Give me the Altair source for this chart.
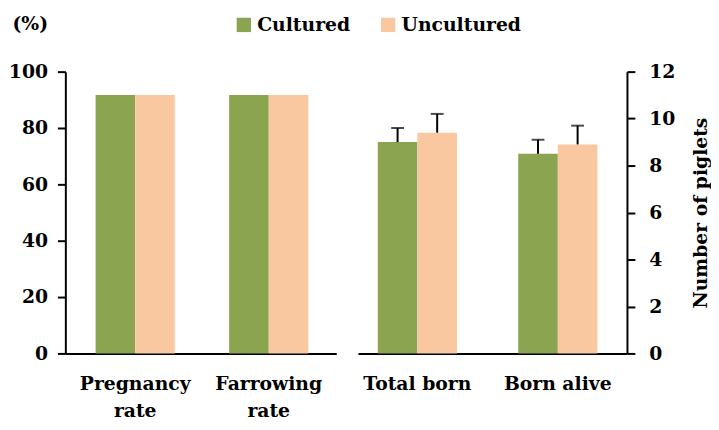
import altair as alt
import pandas as pd

series = ["Cultured", "Uncultured"]
colors = ["#8BA450", "#FAC8A0"]

left_groups = ["Pregnancy rate", "Farrowing rate"]
left_cultured = [91.7, 91.7]
left_uncultured = [91.7, 91.7]

right_groups = ["Total born", "Born alive"]
right_cultured = [9.0, 8.5]
right_cultured_sd = [0.6, 0.6]
right_uncultured = [9.4, 8.9]
right_uncultured_sd = [0.8, 0.8]

left_rows = []
for g, c, u in zip(left_groups, left_cultured, left_uncultured):
    left_rows.append({"group": g, "series": "Cultured", "value": c})
    left_rows.append({"group": g, "series": "Uncultured", "value": u})
left_df = pd.DataFrame(left_rows)

right_rows = []
for g, c, cs, u, us in zip(right_groups, right_cultured, right_cultured_sd, right_uncultured, right_uncultured_sd):
    right_rows.append({"group": g, "series": "Cultured", "value": c, "top": c + cs})
    right_rows.append({"group": g, "series": "Uncultured", "value": u, "top": u + us})
right_df = pd.DataFrame(right_rows)

FONT = "DejaVu Serif"
FS = 19
label_expr = "indexof(datum.label, ' rate') > 0 ? split(datum.label, ' ') : datum.label"

color_enc = alt.Color(
    "series:N",
    scale=alt.Scale(domain=series, range=colors),
    legend=alt.Legend(
        title=None, orient="none", legendX=171, legendY=-57, direction="horizontal",
        symbolType="square", symbolSize=210, symbolStrokeWidth=0,
        labelFont=FONT, labelFontSize=FS, labelFontWeight="bold", labelColor="black",
        labelOffset=4, columnPadding=28, padding=0,
    ),
)

x_axis = alt.Axis(title=None, ticks=False, labelAngle=0, labelExpr=label_expr,
                  labelLineHeight=28, labelPadding=21)

left_base = alt.Chart(left_df).encode(
    x=alt.X("group:N", sort=left_groups, axis=x_axis,
            scale=alt.Scale(paddingInner=0.407, paddingOuter=0.218, align=0.52)),
    xOffset=alt.XOffset("series:N", sort=series, scale=alt.Scale(paddingInner=0, paddingOuter=0)),
)
left = left_base.mark_bar().encode(
    y=alt.Y("value:Q", scale=alt.Scale(domain=[0, 100]),
            axis=alt.Axis(title="(%)", titleAngle=0, titleAlign="left", titleBaseline="top",
                          titleX=-54, titleY=-58, labelPadding=10,
                          values=[0, 20, 40, 60, 80, 100])),
    color=color_enc,
).properties(width=274, height=285)

right_base = alt.Chart(right_df).encode(
    x=alt.X("group:N", sort=right_groups, axis=x_axis,
            scale=alt.Scale(paddingInner=0.437, paddingOuter=0.176, align=0.4)),
    xOffset=alt.XOffset("series:N", sort=series, scale=alt.Scale(paddingInner=0, paddingOuter=0)),
)
y_right = alt.Y("value:Q", scale=alt.Scale(domain=[0, 12]),
                axis=alt.Axis(orient="right", title="Number of piglets", titleAngle=270,
                              titleBaseline="top", titlePadding=17, labelPadding=14,
                              values=[0, 2, 4, 6, 8, 10, 12]))
r_bars = right_base.mark_bar().encode(y=y_right, color=color_enc)
r_rule = right_base.mark_rule(color="black", strokeWidth=2).encode(y="value:Q", y2="top:Q")
r_cap = right_base.mark_tick(color="black", thickness=2, size=13).encode(y="top:Q")
right = alt.layer(r_bars, r_rule, r_cap).properties(width=272, height=285)

chart = alt.hconcat(left, right, spacing=22).properties(
    padding={"left": 0, "top": 4, "right": 0, "bottom": 0},
    bounds="flush",
).configure_view(stroke=None).configure_axis(
    grid=False, domainColor="black", domainWidth=2, tickColor="black", tickWidth=2,
    tickSize=8, labelFont=FONT, labelFontWeight="bold", labelFontSize=FS, labelColor="black",
    titleFont=FONT, titleFontWeight="bold", titleFontSize=FS, titleColor="black",
)

chart.save("out.html", embed_options={"renderer": "svg", "actions": False})
